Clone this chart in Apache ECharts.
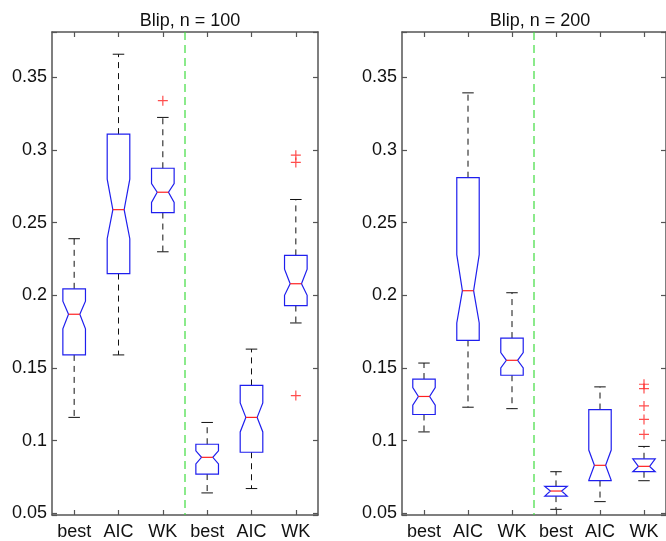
<!DOCTYPE html>
<html>
<head>
<meta charset="utf-8">
<script src="https://cdn.jsdelivr.net/npm/echarts@6/dist/echarts.min.js"></script>
<style>
  html, body { margin: 0; padding: 0; background: #fff; }
  #container { width: 666px; height: 541px; }
</style>
</head>
<body>
<div id="container"></div>
<script type="text/javascript">

// categories (same for both panels)
var cats = ['best', 'AIC', 'WK', 'best', 'AIC', 'WK'];
var titles = ['Blip, n = 100', 'Blip, n = 200'];
var separatorAfter = 2; // green dashed line sits between index 2 and 3

// n = 100
var whiskerLow100  = [0.116, 0.159, 0.230, 0.064, 0.067, 0.181];
var q1_100         = [0.159, 0.215, 0.257, 0.077, 0.092, 0.193];
var notchLow100    = [0.177, 0.239, 0.264, 0.084, 0.106, 0.200];
var median100      = [0.187, 0.259, 0.271, 0.0885, 0.116, 0.208];
var notchHigh100   = [0.196, 0.280, 0.277, 0.093, 0.126, 0.218];
var q3_100         = [0.2045, 0.311, 0.2875, 0.0975, 0.138, 0.2275];
var whiskerHigh100 = [0.239, 0.366, 0.3225, 0.1125, 0.163, 0.266];
var outliers100    = [[2, 0.334], [5, 0.2965], [5, 0.2915], [5, 0.131]];

// n = 200
var whiskerLow200  = [0.106, 0.123, 0.122, 0.0527, 0.058, 0.0724];
var q1_200         = [0.118, 0.169, 0.145, 0.0618, 0.0725, 0.0786];
var notchLow200    = [0.1244, 0.181, 0.150, 0.0618, 0.0727, 0.0786];
var median200      = [0.1304, 0.2032, 0.1553, 0.0653, 0.083, 0.0823];
var notchHigh200   = [0.1365, 0.228, 0.1606, 0.0685, 0.0935, 0.0875];
var q3_200         = [0.1424, 0.281, 0.1706, 0.0685, 0.1214, 0.0875];
var whiskerHigh200 = [0.1534, 0.3394, 0.2018, 0.0786, 0.137, 0.096];
var outliers200    = [[5, 0.1388], [5, 0.1358], [5, 0.1239], [5, 0.1146], [5, 0.1043]];

var yMin = 0.0488, yMax = 0.3813;

var dom = document.getElementById("container");
var myChart = echarts.init(dom);
var option = null;

var boxColor = '#1f1fee';
var font = 'Liberation Sans, Arial, Helvetica, sans-serif';

function boxRows(wlo, q1, nlo, med, nhi, q3, whi) {
    return cats.map(function (c, i) {
        return [i, wlo[i], q1[i], nlo[i], med[i], nhi[i], q3[i], whi[i]];
    });
}

function renderBox(params, api) {
    var i = api.value(0);
    function py(k) { return api.coord([i, api.value(k)])[1]; }
    var x = api.coord([i, api.value(4)])[0];
    var band = api.size([1, 0])[0];
    var hw = band * 0.255;
    var inset = hw * 0.5;
    var cap = band * 0.13;
    var wlo = py(1), q1 = py(2), nlo = py(3), med = py(4), nhi = py(5), q3 = py(6), whi = py(7);
    var xl = x - hw, xr = x + hw;
    var dash = { stroke: '#111', lineWidth: 1, lineDash: [6, 5] };
    return {
        type: 'group',
        children: [
            { type: 'line', shape: { x1: x, y1: q3, x2: x, y2: whi }, style: dash },
            { type: 'line', shape: { x1: x, y1: q1, x2: x, y2: wlo }, style: dash },
            { type: 'line', shape: { x1: x - cap, y1: whi, x2: x + cap, y2: whi }, style: { stroke: '#111', lineWidth: 1 } },
            { type: 'line', shape: { x1: x - cap, y1: wlo, x2: x + cap, y2: wlo }, style: { stroke: '#111', lineWidth: 1 } },
            {
                type: 'polygon',
                shape: { points: [[xl, q1], [xl, nlo], [xl + inset, med], [xl, nhi], [xl, q3],
                                  [xr, q3], [xr, nhi], [xr - inset, med], [xr, nlo], [xr, q1]] },
                style: { fill: 'none', stroke: boxColor, lineWidth: 1.2 }
            },
            { type: 'line', shape: { x1: xl + inset, y1: med, x2: xr - inset, y2: med }, style: { stroke: '#ff2020', lineWidth: 1.2 } }
        ]
    };
}

function renderSeparator(params, api) {
    var a = api.coord([api.value(0), yMin])[0];
    var b = api.coord([api.value(0) + 1, yMin])[0];
    var cs = params.coordSys;
    var x = (a + b) / 2;
    return {
        type: 'line',
        shape: { x1: x, y1: cs.y, x2: x, y2: cs.y + cs.height },
        style: { stroke: '#3fdc3f', lineWidth: 1.2, lineDash: [8, 5] }
    };
}

function yLabel(v) {
    var k = Math.round(v / 0.05);
    if (Math.abs(v - k * 0.05) > 1e-6) return '';
    return String(+(k * 0.05).toFixed(2));
}

var axisLine = { show: true, onZero: false, lineStyle: { color: '#555', width: 1.5 } };
var tick = { show: true, inside: true, length: 5, alignWithLabel: true, lineStyle: { color: '#555', width: 1.2 } };

var grids = [
    { left: 52, top: 32, width: 266, height: 484 },
    { left: 402, top: 32, width: 266, height: 484 }
];

var xAxes = [], yAxes = [], titleList = [];
grids.forEach(function (g, gi) {
    xAxes.push({
        type: 'category', gridIndex: gi, data: cats, position: 'bottom',
        axisLine: axisLine, axisTick: tick,
        axisLabel: { color: '#111', fontSize: 18, fontFamily: font, margin: 8, interval: 0 }
    });
    xAxes.push({
        type: 'category', gridIndex: gi, data: cats, position: 'top',
        axisLine: axisLine, axisTick: tick, axisLabel: { show: false }
    });
    yAxes.push({
        type: 'value', gridIndex: gi, min: yMin, max: yMax, position: 'left',
        splitLine: { show: false }, axisLine: axisLine, axisTick: tick,
        axisLabel: { color: '#111', fontSize: 18, fontFamily: font, margin: 5, formatter: yLabel }
    });
    yAxes.push({
        type: 'value', gridIndex: gi, min: yMin, max: yMax, position: 'right',
        splitLine: { show: false }, axisLine: axisLine, axisTick: tick, axisLabel: { show: false }
    });
    titleList.push({
        text: titles[gi], left: g.left + g.width / 2, top: 7, textAlign: 'center',
        textStyle: { fontSize: 18, fontWeight: 'normal', color: '#111', fontFamily: font }
    });
});

var panels = [
    { rows: boxRows(whiskerLow100, q1_100, notchLow100, median100, notchHigh100, q3_100, whiskerHigh100), out: outliers100 },
    { rows: boxRows(whiskerLow200, q1_200, notchLow200, median200, notchHigh200, q3_200, whiskerHigh200), out: outliers200 }
];

var series1 = [];
panels.forEach(function (p, gi) {
    series1.push({
        type: 'custom', xAxisIndex: gi * 2, yAxisIndex: gi * 2,
        renderItem: renderSeparator, data: [[separatorAfter]], silent: true
    });
    series1.push({
        type: 'custom', xAxisIndex: gi * 2, yAxisIndex: gi * 2,
        renderItem: renderBox, data: p.rows, silent: true,
        encode: { x: 0, y: [1, 2, 3, 4, 5, 6, 7] }
    });
    series1.push({
        type: 'scatter', xAxisIndex: gi * 2, yAxisIndex: gi * 2,
        data: p.out, symbol: 'path://M0,5L10,5M5,0L5,10', symbolSize: 10,
        itemStyle: { color: 'none', borderColor: '#ff2020', borderWidth: 1.2 },
        silent: true
    });
});

option = {
    animation: false,
    backgroundColor: '#fff',
    title: titleList,
    grid: grids,
    xAxis: xAxes,
    yAxis: yAxes,
    series: series1
};

if (option && typeof option === "object") {
    myChart.setOption(option, true);
}
</script>
</body>
</html>
